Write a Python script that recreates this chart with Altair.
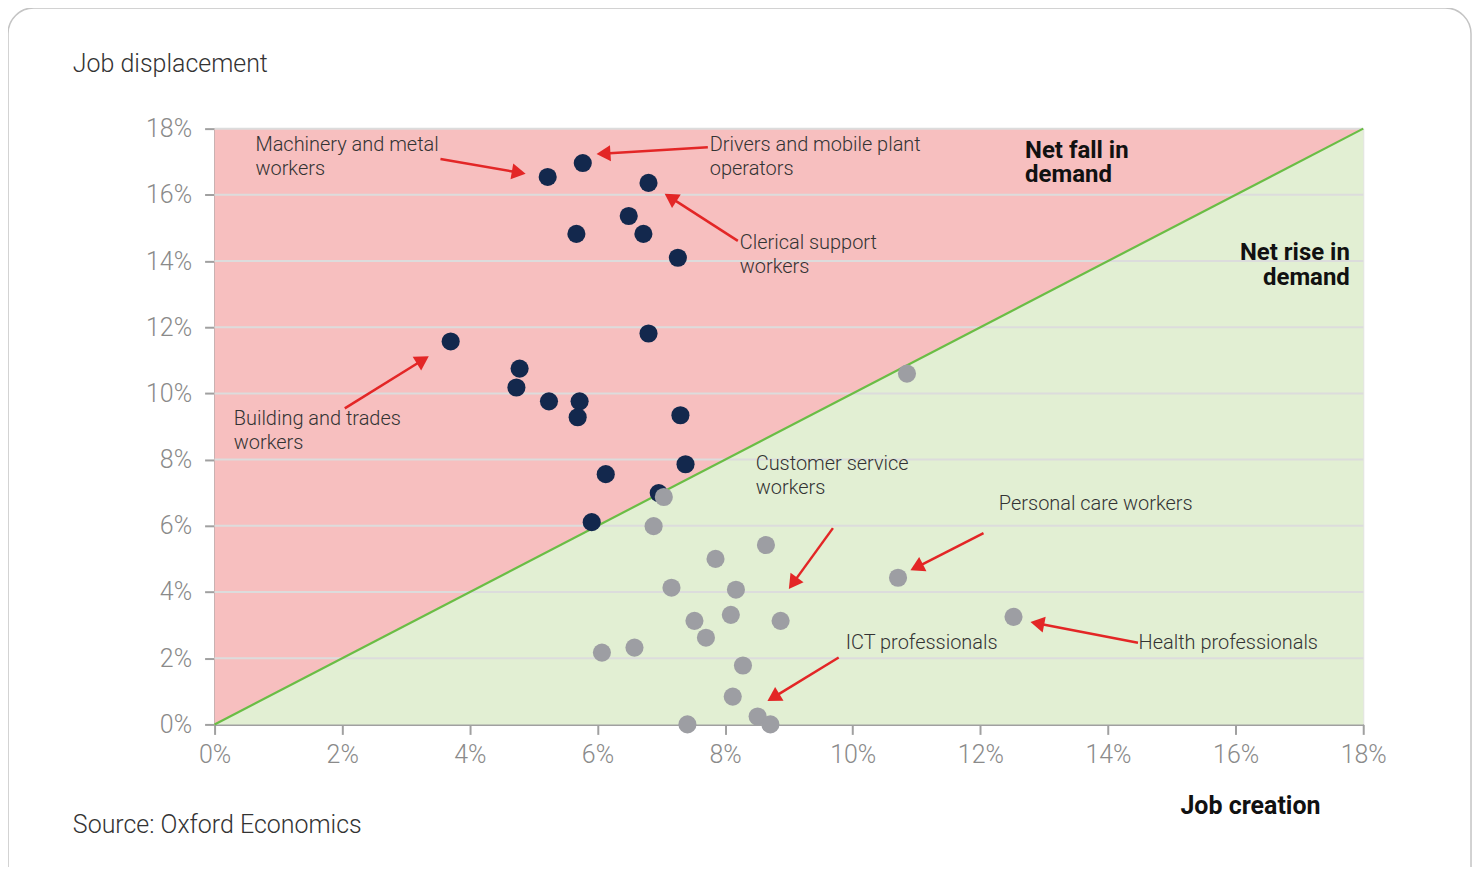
import math
import altair as alt
import pandas as pd

# ---------------- data ----------------
TICKS = [0, 2, 4, 6, 8, 10, 12, 14, 16, 18]

fall_x = [5.22, 5.77, 6.80, 6.49, 5.67, 6.72, 7.26, 6.80, 3.70, 4.78, 4.73, 5.24, 5.72, 5.69, 7.30, 7.38, 6.13, 6.96, 5.91]
fall_y = [16.54, 16.96, 16.36, 15.36, 14.82, 14.82, 14.10, 11.81, 11.57, 10.75, 10.18, 9.76, 9.76, 9.28, 9.34, 7.86, 7.56, 6.99, 6.11]

rise_x = [10.85, 7.04, 6.88, 8.64, 7.85, 7.16, 8.17, 10.71, 7.52, 8.09, 8.87, 7.70, 6.07, 6.58, 12.52, 8.28, 8.12, 8.51, 7.41, 8.71]
rise_y = [10.60, 6.87, 5.99, 5.42, 5.00, 4.13, 4.07, 4.43, 3.13, 3.31, 3.13, 2.62, 2.17, 2.32, 3.25, 1.78, 0.84, 0.24, 0.00, 0.00]

label_text = ["Machinery and metal\nworkers", "Drivers and mobile plant\noperators",
              "Clerical support\nworkers", "Building and trades\nworkers",
              "Customer service\nworkers", "Personal care workers",
              "ICT professionals", "Health professionals"]
label_x = [0.64, 7.76, 8.23, 0.30, 8.48, 12.29, 9.89, 14.48]
label_y = [17.80, 17.80, 14.85, 9.54, 8.18, 6.95, 2.76, 2.76]

arrow_x0 = [3.54, 7.73, 8.20, 2.04, 9.69, 12.05, 9.78, 14.47]
arrow_y0 = [17.08, 17.44, 14.61, 9.55, 5.93, 5.78, 2.02, 2.47]
arrow_x1 = [4.89, 5.97, 7.04, 3.37, 8.99, 10.89, 8.65, 12.77]
arrow_y1 = [16.63, 17.23, 16.05, 11.14, 4.07, 4.64, 0.69, 3.10]

region_text = ["Net fall in\ndemand", "Net rise in\ndemand"]
region_x = [12.70, 17.79]
region_y = [17.70, 14.60]

# ---------------- layout ----------------
W, H = 1151, 597
SX, SY = W / 18.0, H / 18.0
FONT = "Roboto"
TXT = "#333333"

xs = alt.Scale(domain=[0, 18], nice=False, zero=True)
ys = alt.Scale(domain=[0, 18], nice=False, zero=True)

xaxis = alt.Axis(values=TICKS, labelExpr="datum.value + '%'", title=None, grid=False,
                 domainColor="#a0a0a0", domainWidth=2, tickColor="#a0a0a0", tickWidth=2,
                 tickSize=10, labelFontSize=25, labelColor="#8a8a8a", labelFont=FONT,
                 labelFontWeight=300, labelPadding=8, labelFlush=False, labelOverlap=False)
yaxis = alt.Axis(values=TICKS, labelExpr="datum.value + '%'", title=None, grid=False,
                 domainColor="#a0a0a0", domainWidth=2, tickColor="#a0a0a0", tickWidth=2,
                 tickSize=10, labelFontSize=25, labelColor="#8a8a8a", labelFont=FONT,
                 labelFontWeight=300, labelPadding=13, labelFlush=False, labelOverlap=False)

one = pd.DataFrame({"a": [0]})

border = alt.Chart(one).mark_rect(fillOpacity=0, stroke="#c4c4c4", strokeWidth=1.5,
                                  cornerRadius=26).encode(
    x=alt.value(-207), x2=alt.value(W + 108), y=alt.value(-121), y2=alt.value(H + 170))

diag = pd.DataFrame({"x": [0, 18], "y": [0, 18]})
red = alt.Chart(diag).mark_area(color="#f7bfbf", opacity=1).encode(
    x=alt.X("x:Q", scale=xs, axis=xaxis), y=alt.Y("y:Q", scale=ys, axis=yaxis), y2=alt.datum(18))
green = alt.Chart(diag).mark_area(color="#e2efd3", opacity=1).encode(
    x=alt.X("x:Q", scale=xs), y=alt.Y("y:Q", scale=ys), y2=alt.datum(0))

grid_df = pd.DataFrame({"g": TICKS[1:]})
grid = alt.Chart(grid_df).mark_rule(color="#dcdcdc", strokeWidth=2).encode(
    y=alt.Y("g:Q", scale=ys), x=alt.datum(0), x2=alt.datum(18))

line = alt.Chart(diag).mark_line(color="#6abd45", strokeWidth=2.2).encode(
    x=alt.X("x:Q", scale=xs), y=alt.Y("y:Q", scale=ys))

fall = alt.Chart(pd.DataFrame({"x": fall_x, "y": fall_y})).mark_circle(
    color="#13284d", opacity=1, size=330).encode(x=alt.X("x:Q", scale=xs), y=alt.Y("y:Q", scale=ys))
rise = alt.Chart(pd.DataFrame({"x": rise_x, "y": rise_y})).mark_circle(
    color="#9d9ea3", opacity=1, size=330).encode(x=alt.X("x:Q", scale=xs), y=alt.Y("y:Q", scale=ys))

# arrows: shaft + triangular head
rows = []
for x0, y0, x1, y1 in zip(arrow_x0, arrow_y0, arrow_x1, arrow_y1):
    dxp = (x1 - x0) * SX
    dyp = -(y1 - y0) * SY
    L = math.hypot(dxp, dyp)
    ux, uy = dxp / L, dyp / L
    ang = math.degrees(math.atan2(ux, -uy)) % 360
    back = 8.0
    hx = x1 - ux * back / SX
    hy = y1 + uy * back / SY
    sx_end = x1 - ux * 10 / SX
    sy_end = y1 + uy * 10 / SY
    rows.append({"x0": x0, "y0": y0, "x1": sx_end, "y1": sy_end, "hx": hx, "hy": hy, "ang": ang})
arr = pd.DataFrame(rows)
shaft = alt.Chart(arr).mark_rule(color="#e32626", strokeWidth=2.5).encode(
    x=alt.X("x0:Q", scale=xs), y=alt.Y("y0:Q", scale=ys), x2="x1:Q", y2="y1:Q")
head = alt.Chart(arr).mark_point(shape="triangle-up", filled=True, color="#e32626",
                                 opacity=1, size=260).encode(
    x=alt.X("hx:Q", scale=xs), y=alt.Y("hy:Q", scale=ys), angle=alt.Angle("ang:Q", scale=None))

labels = alt.Chart(pd.DataFrame({"t": label_text, "x": label_x, "y": label_y})).mark_text(
    align="left", baseline="top", lineBreak="\n", lineHeight=24, fontSize=20,
    font=FONT, fontWeight=300, color=TXT).encode(
    x=alt.X("x:Q", scale=xs), y=alt.Y("y:Q", scale=ys), text="t:N")

reg_df = pd.DataFrame({"t": region_text, "x": region_x, "y": region_y})
fall_lbl = alt.Chart(reg_df.iloc[[0]]).mark_text(
    align="left", baseline="top", lineBreak="\n", lineHeight=25, fontSize=24,
    font=FONT, fontWeight="bold", color="#111111").encode(
    x=alt.X("x:Q", scale=xs), y=alt.Y("y:Q", scale=ys), text="t:N")
rise_lbl = alt.Chart(reg_df.iloc[[1]]).mark_text(
    align="right", baseline="top", lineBreak="\n", lineHeight=25, fontSize=24,
    font=FONT, fontWeight="bold", color="#111111").encode(
    x=alt.X("x:Q", scale=xs), y=alt.Y("y:Q", scale=ys), text="t:N")

ytitle = alt.Chart(one).mark_text(align="left", baseline="middle", fontSize=25, font=FONT,
                                  fontWeight=300, color=TXT).encode(
    x=alt.value(-142), y=alt.value(-65), text=alt.value("Job displacement"))
source = alt.Chart(one).mark_text(align="left", baseline="middle", fontSize=25, font=FONT,
                                  fontWeight=300, color=TXT).encode(
    x=alt.value(-142), y=alt.value(H + 101), text=alt.value("Source: Oxford Economics"))
xtitle = alt.Chart(one).mark_text(align="center", baseline="middle", fontSize=25, font=FONT,
                                  fontWeight="bold", color="#111111").encode(
    x=alt.value(1038), y=alt.value(H + 82), text=alt.value("Job creation"))

chart = alt.layer(border, red, green, grid, line, fall, rise, shaft, head, labels,
                  fall_lbl, rise_lbl, ytitle, source, xtitle).properties(
    width=W, height=H,
    autosize=alt.AutoSizeParams(type="none"),
    padding={"left": 207, "top": 120, "right": 110, "bottom": 142},
).configure_view(stroke=None).configure(background="white")

chart.save("out.html", embed_options={"renderer": "svg", "actions": False})
